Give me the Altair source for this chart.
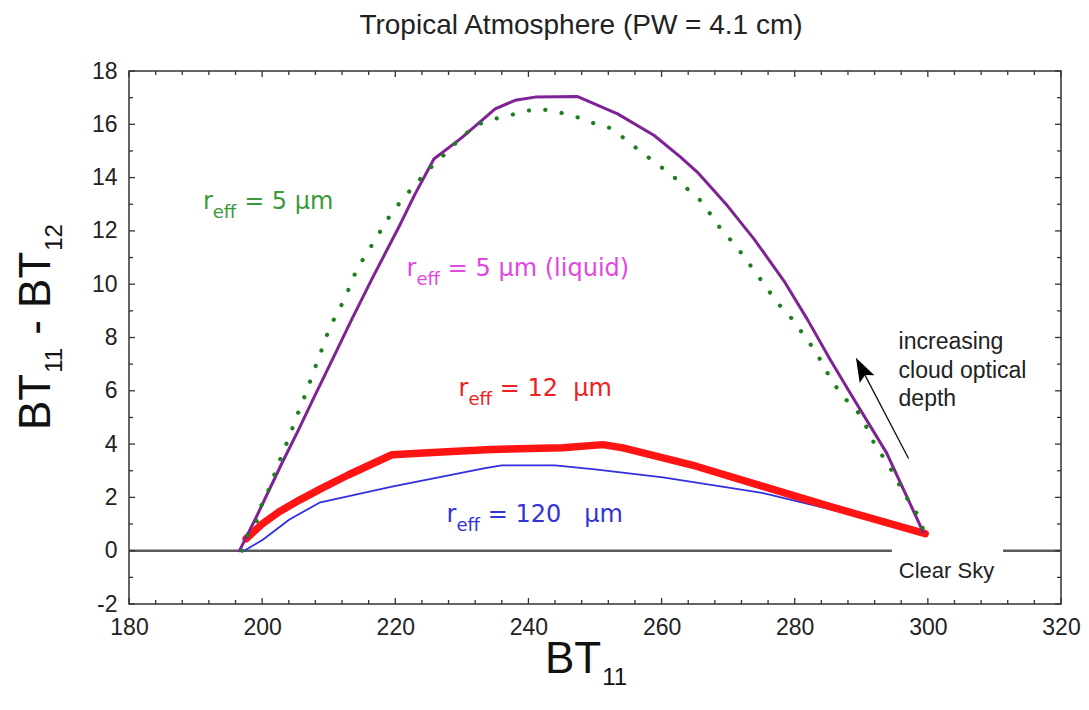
import altair as alt
import pandas as pd

# ---------------- data ----------------
# r_eff = 5 um (ice), green dotted
ice5_bt11 = [197.0, 197.8, 199.1, 199.7, 200.8, 202.6, 204.3, 205.1, 206.1, 209.4, 210.2, 211.4, 212.6,
             213.4, 214.5, 215.9, 217.3, 218.6, 220.3, 222.5, 225.0, 227.5, 229.7, 232.0, 234.3, 236.6,
             238.9, 241.1, 243.4, 245.6, 247.8, 250.0, 252.3, 254.5, 256.9, 261.5, 265.9, 267.5, 269.1,
             271.2, 272.9, 274.5, 276.2, 277.9, 279.9, 281.5, 283.2, 284.3, 285.7, 287.2, 289.4, 290.7,
             291.8, 293.2, 294.6, 295.8, 297.1, 298.6, 299.5]
ice5_dbt = [0.0, 0.54, 1.04, 1.6, 2.17, 3.36, 4.42, 4.99, 5.6, 7.85, 8.41, 8.97, 9.54,
            10.1, 10.67, 11.23, 11.79, 12.36, 12.94, 13.6, 14.3, 14.9, 15.45, 15.95, 16.17, 16.3,
            16.45, 16.58, 16.52, 16.39, 16.23, 16.02, 15.86, 15.45, 14.97, 14.1, 13.13, 12.57, 12.0,
            11.44, 10.85, 10.31, 9.72, 9.16, 8.62, 8.03, 7.47, 6.93, 6.34, 5.8, 5.24, 4.68,
            4.1, 3.55, 3.0, 2.43, 1.87, 1.3, 0.65]

# r_eff = 5 um (liquid), purple
liq5_bt11 = [196.6, 199.0, 201.0, 203.0, 205.5, 207.5, 210.8, 213.5, 216.5, 220.5, 223.0, 225.8, 230.0,
             235.0, 238.0, 241.0, 247.4, 253.4, 258.9, 262.9, 265.4, 269.9, 273.9, 278.4, 281.9, 285.3,
             288.3, 293.8, 299.3]
liq5_dbt = [0.0, 1.2, 2.25, 3.3, 4.55, 5.6, 7.3, 8.7, 10.2, 12.13, 13.4, 14.7, 15.5,
            16.58, 16.9, 17.02, 17.04, 16.39, 15.58, 14.76, 14.2, 12.94, 11.69, 10.12, 8.68, 7.18,
            5.93, 3.67, 0.7]

# r_eff = 12 um, red thick
ice12_bt11 = [197.6, 200.0, 202.5, 205.6, 209.0, 213.0, 219.5, 227.0, 234.4, 245.2, 251.2, 254.2,
              265.2, 275.1, 285.1, 299.6]
ice12_dbt = [0.45, 1.0, 1.45, 1.9, 2.35, 2.85, 3.6, 3.7, 3.8, 3.86, 3.98, 3.86,
             3.17, 2.42, 1.67, 0.64]

# r_eff = 120 um, blue thin
ice120_bt11 = [197.3, 200.1, 204.1, 208.6, 219.5, 233.5, 236.0, 244.0, 250.0, 260.2, 275.1, 287.6, 299.6]
ice120_dbt = [0.0, 0.41, 1.17, 1.8, 2.4, 3.1, 3.2, 3.2, 3.05, 2.75, 2.17, 1.42, 0.64]

# clear-sky zero line (broken around the "Clear Sky" label)
zero_bt11 = [180, 294.6, 311.3, 320]
zero_dbt = [0, 0, 0, 0]
zero_seg = [0, 0, 1, 1]

# axis ticks
x_major = [180, 200, 220, 240, 260, 280, 300, 320]
x_minor = [v for v in range(180, 321, 4) if v % 20 != 0]
y_major = [-2, 0, 2, 4, 6, 8, 10, 12, 14, 16, 18]
y_minor = [-1, 1, 3, 5, 7, 9, 11, 13, 15, 17]

# annotations (anchor positions in data units)
label_x = [191.1, 221.7, 229.5, 227.7]
label_y = [12.82, 10.3, 5.79, 1.09]
note_lines = ["increasing", "cloud optical", "depth"]
note_x = [295.6, 295.6, 295.6]
note_y = [7.56, 6.49, 5.42]
clear_x = [302.8]
clear_y = [-1.02]
arrow_bt11 = [297.1, 290.24]
arrow_dbt = [3.46, 6.74]

# ---------------- layout / styling ----------------
W, H = 932, 533
xs = alt.Scale(domain=[180, 320], nice=False, zero=False)
ys = alt.Scale(domain=[-2, 18], nice=False, zero=False)
TICK_FONT = "Liberation Sans Narrow, Liberation Sans, Arial"
SANS = "Liberation Sans, Arial"
LBL = "DejaVu Sans"

xaxis = alt.Axis(values=x_major, title=None, ticks=False, domain=False, grid=False,
                 labelFont=TICK_FONT, labelFontSize=23, labelPadding=12, labelColor="#222",
                 labelFlush=False, labelOverlap=False, labelExpr="toString(datum.value)")
yaxis = alt.Axis(values=y_major, title=None, ticks=False, domain=False, grid=False,
                 labelFont=TICK_FONT, labelFontSize=23, labelPadding=12, labelColor="#222",
                 labelOverlap=False, labelExpr="toString(datum.value)")


def X(field):
    return alt.X(field, scale=xs, axis=xaxis)


def Y(field):
    return alt.Y(field, scale=ys, axis=yaxis)


DEJAVU = {' ': .318, '\u00a0': .318, '=': .838, '0': .636, '1': .636, '2': .636, '5': .636,
          'r': .411, 'e': .615, 'f': .352, 'µ': .636, 'm': .974, '(': .390, ')': .390,
          'l': .278, 'i': .278, 'q': .635, 'u': .634, 'd': .635}
ARIAL = {' ': .278, 'B': .667, 'T': .611, '1': .556, '2': .556, '-': .333}


def tw(s, size, table):
    return sum(table.get(c, .6) for c in s) * size


layers = []


def curve(xv, yv, color, width, dash=None):
    df = pd.DataFrame({"x": xv, "y": yv, "o": list(range(len(xv)))})
    props = dict(color=color, strokeWidth=width, strokeCap="round", strokeJoin="round")
    if dash:
        props["strokeDash"] = dash
    return alt.Chart(df).mark_line(**props).encode(x=X("x:Q"), y=Y("y:Q"), order="o:Q")


# zero line
zdf = pd.DataFrame({"x": zero_bt11, "y": zero_dbt, "s": zero_seg})
layers.append(alt.Chart(zdf).mark_line(color="#5a5a5a", strokeWidth=2.5).encode(
    x=X("x:Q"), y=Y("y:Q"), detail="s:N"))

layers.append(curve(ice120_bt11, ice120_dbt, "#2f2fe0", 1.8))
layers.append(curve(ice12_bt11, ice12_dbt, "#ff1414", 7.5))
layers.append(curve(liq5_bt11, liq5_dbt, "#7f2294", 3))
layers.append(curve(ice5_bt11, ice5_dbt, "#1f7f1f", 4.2, dash=[0.1, 16.5]))


# ticks (inward) on all four sides
def ticks(values, side, length):
    if side in ("bottom", "top"):
        m = alt.Chart(pd.DataFrame({"x": values})).mark_rule(color="#333", strokeWidth=1.3)
        if side == "bottom":
            return m.encode(x=X("x:Q"), y=alt.value(H), y2=alt.value(H - length))
        return m.encode(x=X("x:Q"), y=alt.value(0), y2=alt.value(length))
    m = alt.Chart(pd.DataFrame({"y": values})).mark_rule(color="#333", strokeWidth=1.3)
    if side == "left":
        return m.encode(y=Y("y:Q"), x=alt.value(0), x2=alt.value(length))
    return m.encode(y=Y("y:Q"), x=alt.value(W), x2=alt.value(W - length))


for side in ["bottom", "top"]:
    layers.append(ticks(x_major, side, 6))
    layers.append(ticks(x_minor, side, 4))
for side in ["left", "right"]:
    layers.append(ticks(y_major, side, 6))
    layers.append(ticks(y_minor, side, 4))


# rich (subscripted) labels
def rich(x, y, parts, color, font):
    df = pd.DataFrame({"x": [x], "y": [y]})
    out = []
    for text, size, dx, dy in parts:
        out.append(alt.Chart(df).mark_text(text=text, fontSize=size, dx=dx, dy=dy, align="left",
                                           baseline="alphabetic", color=color, font=font).encode(
            x=X("x:Q"), y=Y("y:Q")))
    return out


def reff_label(i, rest, color, size=24, sub=18):
    w_r = tw("r", size, DEJAVU)
    w_eff = tw("eff", sub, DEJAVU)
    sp = tw(" ", size, DEJAVU)
    return rich(label_x[i], label_y[i],
                [("r", size, 0, 0), ("eff", sub, w_r, 9), (rest, size, w_r + w_eff + sp, 0)],
                color, LBL)


NB = "\u00a0"
layers += reff_label(0, "=" + NB + "5" + NB + "µm", "#3a9a3a")
layers += reff_label(1, "=" + NB + "5" + NB + "µm" + NB + "(liquid)", "#e046e0")
layers += reff_label(2, "=" + NB + "12" + NB + NB + "µm", "#ee2020")
layers += reff_label(3, "=" + NB + "120" + NB + NB + NB + "µm", "#3434d4")

# increasing cloud optical depth note
ndf = pd.DataFrame({"x": note_x, "y": note_y, "t": note_lines})
layers.append(alt.Chart(ndf).mark_text(align="left", baseline="alphabetic", fontSize=23, font=SANS,
                                       color="#222").encode(x=X("x:Q"), y=Y("y:Q"), text="t:N"))

# Clear Sky label
cdf = pd.DataFrame({"x": clear_x, "y": clear_y, "t": ["Clear Sky"]})
layers.append(alt.Chart(cdf).mark_text(align="center", baseline="alphabetic", fontSize=22, font=SANS,
                                       color="#222").encode(x=X("x:Q"), y=Y("y:Q"), text="t:N"))

# arrow
adf = pd.DataFrame({"x": [arrow_bt11[0]], "y": [arrow_dbt[0]], "x2": [arrow_bt11[1]], "y2": [arrow_dbt[1]]})
layers.append(alt.Chart(adf).mark_rule(color="#111", strokeWidth=1.3).encode(
    x=X("x:Q"), y=Y("y:Q"), x2="x2:Q", y2="y2:Q"))
hdf = pd.DataFrame({"x": [arrow_bt11[1]], "y": [arrow_dbt[1]]})
layers.append(alt.Chart(hdf).mark_point(shape="M0,-1L0.55,0.6L0,0.3L-0.55,0.6Z", filled=True, size=900,
                                        angle=332.4, color="#000", opacity=1, strokeWidth=0).encode(
    x=X("x:Q"), y=Y("y:Q")))

# titles (positioned in pixels relative to the plot area)
one = pd.DataFrame({"a": [0]})


def ptext(text, x, y, size, font, dx=0, dy=0, angle=0, align="left", color="#111"):
    return alt.Chart(one).mark_text(text=text, fontSize=size, font=font, dx=dx, dy=dy, angle=angle,
                                    align=align, baseline="alphabetic", color=color).encode(
        x=alt.value(x), y=alt.value(y))


layers.append(ptext("Tropical Atmosphere (PW = 4.1 cm)", 452, -37, 28, SANS, align="center", color="#222"))

# x title BT11
bw = tw("BT", 44, ARIAL)
layers.append(ptext("BT", 416, 602, 44, SANS))
layers.append(ptext("11", 416, 602, 24, SANS, dx=bw + 1, dy=12))

# y title BT11 - BT12 (rotated)
sub_w = tw("11", 24, ARIAL)
d2 = bw + sub_w + tw(" ", 44, ARIAL)
d3 = d2 + tw("- BT", 44, ARIAL)
YT_X, YT_Y = -79, 359
layers.append(ptext("BT", YT_X, YT_Y, 44, SANS, angle=270))
layers.append(ptext("11", YT_X, YT_Y, 24, SANS, dx=bw + 1, dy=12, angle=270))
layers.append(ptext("- BT", YT_X, YT_Y, 44, SANS, dx=d2, angle=270))
layers.append(ptext("12", YT_X, YT_Y, 24, SANS, dx=d3 + 1, dy=12, angle=270))

chart = alt.layer(*layers).properties(
    width=W, height=H,
    autosize=alt.AutoSizeParams(type="none"),
    padding={"left": 121, "top": 63, "right": 20, "bottom": 98},
    background="white",
).configure_view(stroke="#333", strokeWidth=1.5)

chart.save("out.html", embed_options={"renderer": "svg", "actions": False})
